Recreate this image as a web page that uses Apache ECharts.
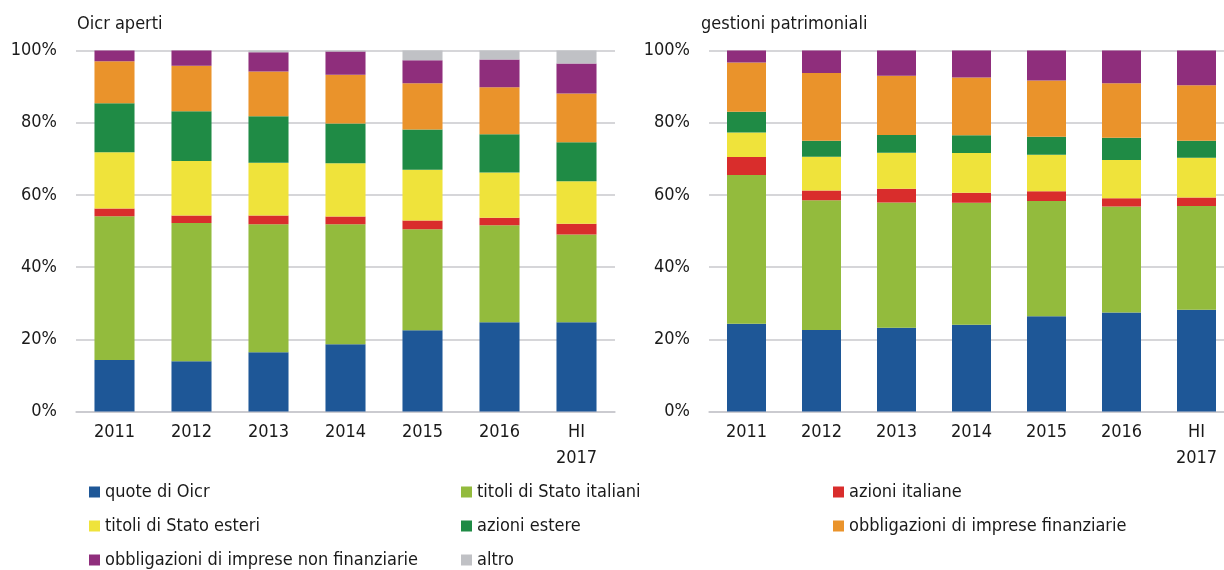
<!DOCTYPE html>
<html>
<head>
<meta charset="utf-8">
<script src="https://cdn.jsdelivr.net/npm/echarts@6/dist/echarts.min.js"></script>
<style>
  html, body { margin: 0; padding: 0; background: #ffffff; }
  #chart { width: 1224px; height: 570px; }
</style>
</head>
<body>
<div id="chart"></div>
<script>
// Periods on the category axis (shared by both panels)
const categories = ['2011', '2012', '2013', '2014', '2015', '2016', 'HI 2017'];
const yTicks = [0, 20, 40, 60, 80, 100];

// Series names, bottom to top of each stack
const seriesNames = [
  'quote di Oicr',
  'titoli di Stato italiani',
  'azioni italiane',
  'titoli di Stato esteri',
  'azioni estere',
  'obbligazioni di imprese finanziarie',
  'obbligazioni di imprese non finanziarie',
  'altro'
];

// Oicr aperti — composition (%)
const oicrQuote        = [14.3, 13.9, 16.4, 18.6, 22.5, 24.7, 24.7];
const oicrTitStatoIt   = [39.8, 38.3, 35.5, 33.3, 28.0, 26.9, 24.3];
const oicrAzioniIt     = [2.1, 2.1, 2.4, 2.1, 2.4, 2.1, 3.0];
const oicrTitStatoEst  = [15.6, 15.1, 14.6, 14.8, 14.1, 12.5, 11.8];
const oicrAzioniEst    = [13.6, 13.8, 12.9, 11.0, 11.1, 10.6, 10.8];
const oicrObbFin       = [11.6, 12.6, 12.4, 13.5, 12.8, 13.0, 13.5];
const oicrObbNonFin    = [3.0, 4.2, 5.3, 6.4, 6.4, 7.7, 8.3];
const oicrAltro        = [0.0, 0.0, 0.5, 0.3, 2.7, 2.5, 3.6];

// gestioni patrimoniali — composition (%)
const gpQuote          = [24.3, 22.6, 23.2, 24.0, 26.4, 27.4, 28.2];
const gpTitStatoIt     = [41.2, 35.9, 34.7, 33.8, 31.9, 29.4, 28.7];
const gpAzioniIt       = [5.0, 2.7, 3.8, 2.8, 2.7, 2.3, 2.4];
const gpTitStatoEst    = [6.8, 9.4, 10.0, 11.0, 10.1, 10.6, 11.0];
const gpAzioniEst      = [5.7, 4.4, 4.9, 4.9, 5.0, 6.1, 4.7];
const gpObbFin         = [13.7, 18.8, 16.4, 16.0, 15.6, 15.1, 15.4];
const gpObbNonFin      = [3.3, 6.2, 7.0, 7.5, 8.3, 9.1, 9.6];

const colors = ['#1e5797', '#93bb3d', '#d92d2c', '#efe33b', '#1f8b45', '#ea932b', '#8f2e7c', '#c0c1c5'];

const oicrData = [oicrQuote, oicrTitStatoIt, oicrAzioniIt, oicrTitStatoEst, oicrAzioniEst, oicrObbFin, oicrObbNonFin, oicrAltro];
const gpData = [gpQuote, gpTitStatoIt, gpAzioniIt, gpTitStatoEst, gpAzioniEst, gpObbFin, gpObbNonFin];

const FONT = '"DejaVu Sans Condensed", "DejaVu Sans", sans-serif';
const FS = 18;
const TEXT = '#1a1a1a';
const GRIDLINE = '#c8c8cd';

function xAxisFor(gridIndex) {
  return {
    type: 'category',
    gridIndex: gridIndex,
    data: categories,
    axisLine: { show: true, lineStyle: { color: GRIDLINE, width: 1.5 } },
    axisTick: { show: false },
    axisLabel: {
      color: TEXT, fontFamily: FONT, fontSize: FS, lineHeight: 26, margin: 8,
      interval: 0,
      formatter: v => v.replace(' ', '\n')
    }
  };
}

function yAxisFor(gridIndex) {
  return {
    type: 'value',
    gridIndex: gridIndex,
    min: yTicks[0],
    max: yTicks[yTicks.length - 1],
    interval: yTicks[1] - yTicks[0],
    axisLine: { show: false },
    axisTick: { show: false },
    splitLine: { lineStyle: { color: GRIDLINE, width: 1.5 } },
    axisLabel: { color: TEXT, fontFamily: FONT, fontSize: FS, margin: 19, formatter: '{value}%' }
  };
}

function stackSeries(dataSets, axisIndex, stackName) {
  return dataSets.map((values, i) => ({
    name: seriesNames[i],
    type: 'bar',
    stack: stackName,
    xAxisIndex: axisIndex,
    yAxisIndex: axisIndex,
    barCategoryGap: '48%',
    itemStyle: { color: colors[i] },
    emphasis: { disabled: true },
    data: values
  }));
}

const chart = echarts.init(document.getElementById('chart'), null, { renderer: 'canvas' });

chart.setOption({
  animation: false,
  color: colors,
  title: [
    { text: 'Oicr aperti', left: 77, top: 15, padding: 0,
      textStyle: { color: TEXT, fontFamily: FONT, fontSize: FS, fontWeight: 'normal' } },
    { text: 'gestioni patrimoniali', left: 701, top: 15, padding: 0,
      textStyle: { color: TEXT, fontFamily: FONT, fontSize: FS, fontWeight: 'normal' } }
  ],
  grid: [
    { left: 76, top: 50.5, width: 539, height: 361, outerBoundsMode: 'none' },
    // the right panel's category band runs a little past the page edge
    { left: 709, top: 50.5, width: 525, height: 361, outerBoundsMode: 'none' }
  ],
  xAxis: [xAxisFor(0), xAxisFor(1)],
  yAxis: [yAxisFor(0), yAxisFor(1)],
  legend: {
    data: seriesNames,
    left: 89,
    top: 475,
    width: 1125,
    padding: 0,
    orient: 'horizontal',
    itemGap: 0,
    itemWidth: 11,
    itemHeight: 11,
    icon: 'rect',
    selectedMode: false,
    textStyle: {
      color: TEXT, fontFamily: FONT, fontSize: FS,
      width: 356, lineHeight: 34, overflow: 'truncate'
    }
  },
  series: [
    ...stackSeries(oicrData, 0, 'oicr'),
    ...stackSeries(gpData, 1, 'gp')
  ]
});
</script>
</body>
</html>
